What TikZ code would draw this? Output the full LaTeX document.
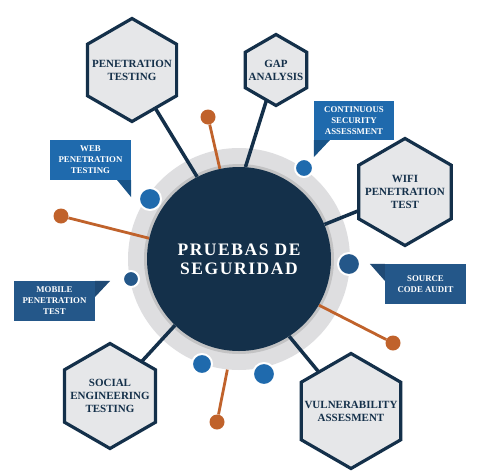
\documentclass[tikz,border=0pt]{standalone}
\usepackage{fontspec}
\setmainfont{Liberation Serif}
\newfontfamily\titlefont[LetterSpace=9]{Liberation Serif}
\usepackage{tikz}
\usetikzlibrary{shapes.geometric}
\definecolor{SecNavy}{HTML}{14304A}
\definecolor{HexGray}{HTML}{E6E7E9}
\definecolor{RingGray}{HTML}{DEDEE0}
\definecolor{SecOrange}{HTML}{C0622B}
\definecolor{BlueA}{HTML}{1F6AAD}
\definecolor{BlueB}{HTML}{245789}
\pgfdeclarelayer{ringlayer}
\pgfdeclarelayer{spokes}
\pgfsetlayers{ringlayer,spokes,main}

\begin{document}
\begin{tikzpicture}[x=1pt, y=-1pt, every node/.style={align=center}]
\tikzstyle{hexbox}=[regular polygon, regular polygon sides=6, shape border rotate=30, draw=SecNavy, line width=3.2pt, fill=HexGray, inner sep=-40pt, text=SecNavy, font=\bfseries\fontsize{11}{13}\selectfont]
\tikzstyle{callout}=[rectangle, inner sep=0pt, minimum width=81pt, minimum height=40pt, text=white, font=\bfseries\fontsize{8.8}{11}\selectfont]
\tikzstyle{dot}=[circle, draw=white, line width=2pt, inner sep=0pt]
\tikzstyle{pin}=[circle, fill=SecOrange, inner sep=0pt, minimum size=15pt]
\tikzstyle{spoke}=[draw=SecNavy, line width=3.5pt]
\tikzstyle{stick}=[draw=SecOrange, line width=2.8pt]
\useasboundingbox (0,0) rectangle (489,474);
% hub
\begin{pgfonlayer}{ringlayer}
\node[circle, fill=RingGray, minimum size=222pt, inner sep=0pt] (ring) at (239,259) {};
\fill[black, opacity=0.12] (239,259) circle (95);
\end{pgfonlayer}
\node[circle, fill=SecNavy, minimum size=184pt, inner sep=0pt, text=white, font=\titlefont\bfseries\fontsize{17.5}{19}\selectfont] (core) at (239,259) {PRUEBAS DE\\SEGURIDAD};
% hexagons
\node[hexbox, minimum size=103pt] (pentest) at (132,70) {PENETRATION\\TESTING};
\node[hexbox, minimum size=71pt] (gap) at (276,70) {GAP\\ANALYSIS};
\node[hexbox, minimum size=107pt] (wifi) at (405,192) {WIFI\\PENETRATION\\TEST};
\node[hexbox, minimum size=105pt] (social) at (110,396) {SOCIAL\\ENGINEERING\\TESTING};
\node[hexbox, minimum size=115pt] (vuln) at (351,411) {VULNERABILITY\\ASSESMENT};
% orange pins
\node[pin] (pinN) at (208,117) {};
\node[pin] (pinW) at (61,216) {};
\node[pin] (pinE) at (393,343) {};
\node[pin] (pinS) at (217,422) {};
% blue dots
\node[dot, fill=BlueA, minimum size=22pt] (webdot) at (150,199) {};
\node[dot, fill=BlueA, minimum size=18pt] (contdot) at (304,168) {};
\node[dot, fill=BlueB, minimum size=16pt] (mobdot) at (131,279) {};
\node[dot, fill=BlueB, minimum size=22pt] (srcdot) at (349,264) {};
\node[dot, fill=BlueA, minimum size=20pt] (lowdotA) at (202,364) {};
\node[dot, fill=BlueA, minimum size=22pt] (lowdotB) at (264,374) {};
% callouts
\node[callout, fill=BlueA] (webcall) at (90.5,160) {WEB\\PENETRATION\\TESTING};
\fill[BlueA!78!black] (webcall.south east) -- ++(-14,0) -- ++(14,17) -- cycle;
\node[callout, fill=BlueA, minimum width=80pt, minimum height=39pt] (contcall) at (354,120.5) {CONTINUOUS\\SECURITY\\ASSESSMENT};
\fill[BlueA!78!black] (contcall.south west) -- ++(16,0) -- ++(-16,17) -- cycle;
\node[callout, fill=BlueB] (mobcall) at (54.5,301) {MOBILE\\PENETRATION\\TEST};
\fill[BlueB!85!black] (mobcall.north east) -- ++(15,0) -- ++(-15,16) -- cycle;
\node[callout, fill=BlueB] (srccall) at (425.5,284) {SOURCE\\CODE AUDIT};
\fill[BlueB!85!black] (srccall.north west) -- ++(-15,0) -- ++(15,17) -- cycle;
% connectors
\begin{pgfonlayer}{spokes}
\draw[spoke] (pentest.center) -- (core.117);
\draw[spoke] (gap.center) -- (core.86);
\draw[spoke] (wifi.center) -- (core.22);
\draw[spoke] (social.center) -- (core.226);
\draw[spoke] (vuln.center) -- (core.-57);
\draw[stick] (pinN) -- (core.102);
\draw[stick] (pinW) -- (core.167);
\draw[stick] (pinE) -- (core.-30);
\draw[stick] (pinS) -- (ring.264);
\end{pgfonlayer}
\end{tikzpicture}
\end{document}
